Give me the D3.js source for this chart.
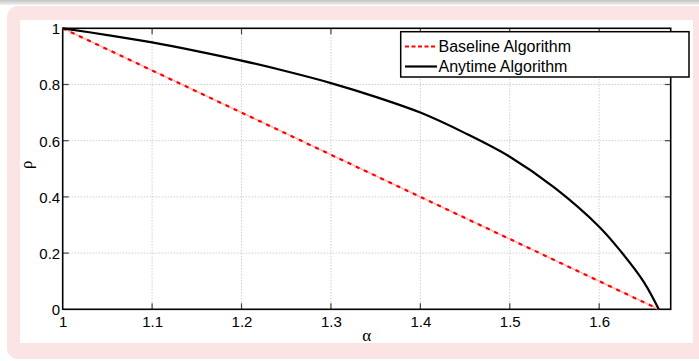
<!DOCTYPE html>
<html>
<head>
<meta charset="utf-8">
<script src="https://cdn.jsdelivr.net/npm/d3@7"></script>
<style>
  html, body { margin: 0; padding: 0; background: #fff; }
  svg { display: block; }
</style>
</head>
<body>
<svg id="chart" width="699" height="361"></svg>
<script>
// ---- data ----
const xTicks = [1, 1.1, 1.2, 1.3, 1.4, 1.5, 1.6];
const yTicks = [0, 0.2, 0.4, 0.6, 0.8, 1];
const baselineAlpha = [1, 1.6667];
const baselineRho = [1, 0];
const anytimeAlpha = [1, 1.05, 1.1, 1.15, 1.2, 1.25, 1.3, 1.35, 1.4, 1.45, 1.5, 1.55, 1.6, 1.625, 1.65, 1.6667];
const anytimeRho   = [1, 0.976, 0.950, 0.919, 0.885, 0.847, 0.805, 0.756, 0.700, 0.627, 0.543, 0.433, 0.294, 0.203, 0.097, 0];
const seriesNames = ["Baseline Algorithm", "Anytime Algorithm"];

const svg = d3.select("#chart");
const W = 699, H = 361;

// ---- frame background ----
const defs = svg.append("defs");
const g1 = defs.append("linearGradient").attr("id", "topGrad").attr("x1", 0).attr("y1", 0).attr("x2", 0).attr("y2", 1);
g1.append("stop").attr("offset", "0%").attr("stop-color", "#c4c4c4");
g1.append("stop").attr("offset", "100%").attr("stop-color", "#f2f2f2");
svg.append("rect").attr("x", 0).attr("y", 0).attr("width", W).attr("height", 5).attr("fill", "url(#topGrad)");
svg.append("rect").attr("x", 7).attr("y", 6).attr("width", W + 20).attr("height", 353)
  .attr("rx", 11).attr("ry", 11).attr("fill", "#fde4e4");
svg.append("rect").attr("x", 20).attr("y", 20).attr("width", 673).attr("height", 323).attr("fill", "#fff");

// ---- scales ----
const L = 62.7, R = 670.7, T = 28.3, B = 309.3;
const x = d3.scaleLinear().domain([1, 1.68]).range([L, R]);
const y = d3.scaleLinear().domain([0, 1]).range([B, T]);

// ---- grid ----
const grid = svg.append("g");
grid.selectAll(".gx").data(xTicks.slice(1)).enter().append("line")
  .attr("x1", d => x(d)).attr("x2", d => x(d)).attr("y1", T).attr("y2", B)
  .attr("stroke", "#b8b8b8").attr("stroke-width", 1).attr("stroke-dasharray", "1,2");
grid.selectAll(".gy").data(yTicks.slice(1, -1)).enter().append("line")
  .attr("x1", L).attr("x2", R).attr("y1", d => y(d)).attr("y2", d => y(d))
  .attr("stroke", "#b8b8b8").attr("stroke-width", 1).attr("stroke-dasharray", "1,2");

// ---- axes ----
const font = "'Liberation Sans', Arial, Helvetica, sans-serif";
const xAxis = d3.axisBottom(x).tickValues(xTicks).tickSize(0).tickPadding(0).tickFormat(d3.format("~g"));
const xa = svg.append("g").attr("transform", `translate(0,${B})`).call(xAxis);
xa.select(".domain").remove();
xa.selectAll("text").attr("font-family", font).attr("font-size", 15).attr("fill", "#000")
  .attr("dy", null).attr("y", 18);

const yAxis = d3.axisLeft(y).tickValues(yTicks).tickSize(0).tickPadding(0).tickFormat(d3.format("~g"));
const ya = svg.append("g").attr("transform", `translate(${L - 2.5},0)`).call(yAxis);
ya.select(".domain").remove();
ya.selectAll("text").attr("font-family", font).attr("font-size", 15).attr("fill", "#000")
  .attr("x", 0).attr("dy", "0.36em");

// inward tick marks
const tk = svg.append("g").attr("stroke", "#444").attr("stroke-width", 1.2);
tk.selectAll(".tb").data(xTicks.slice(1)).enter().append("line")
  .attr("x1", d => x(d)).attr("x2", d => x(d)).attr("y1", B).attr("y2", B - 6);
tk.selectAll(".tt").data(xTicks.slice(1)).enter().append("line")
  .attr("x1", d => x(d)).attr("x2", d => x(d)).attr("y1", T).attr("y2", T + 6);
tk.selectAll(".tl").data(yTicks.slice(1, -1)).enter().append("line")
  .attr("x1", L).attr("x2", L + 6).attr("y1", d => y(d)).attr("y2", d => y(d));
tk.selectAll(".tr").data(yTicks.slice(1, -1)).enter().append("line")
  .attr("x1", R).attr("x2", R - 6).attr("y1", d => y(d)).attr("y2", d => y(d));

// frame
svg.append("rect").attr("x", L).attr("y", T).attr("width", R - L).attr("height", B - T)
  .attr("fill", "none").attr("stroke", "#000").attr("stroke-width", 1.6);

// ---- lines ----
const line = d3.line().x(d => x(d[0])).y(d => y(d[1]));
const baseData = baselineAlpha.map((a, i) => [a, baselineRho[i]]);
const anyData = anytimeAlpha.map((a, i) => [a, anytimeRho[i]]);
const lineC = d3.line().x(d => x(d[0])).y(d => y(d[1])).curve(d3.curveCatmullRom.alpha(0.5));

svg.append("path").datum(baseData).attr("d", line).attr("fill", "none")
  .attr("stroke", "#ffb8b8").attr("stroke-width", 1.6);
svg.append("path").datum(baseData).attr("d", line).attr("fill", "none")
  .attr("stroke", "#ff0000").attr("stroke-width", 2.2).attr("stroke-dasharray", "4,5");
svg.append("path").datum(anyData).attr("d", lineC).attr("fill", "none")
  .attr("stroke", "#000").attr("stroke-width", 2.2).attr("stroke-linejoin", "round");

// ---- axis labels ----
svg.append("text").attr("x", (L + R) / 2).attr("y", 341).attr("text-anchor", "middle")
  .attr("font-family", "'Liberation Serif', 'Times New Roman', serif").attr("font-size", 17).text("α");
svg.append("text").attr("transform", `translate(32,${(T + B) / 2 - 4}) rotate(-90)`).attr("text-anchor", "middle")
  .attr("font-family", "'Liberation Serif', 'Times New Roman', serif").attr("font-size", 17).text("ρ");

// ---- legend ----
const lg = svg.append("g");
lg.append("rect").attr("x", 400.7).attr("y", 31.7).attr("width", 288.3).attr("height", 45.3)
  .attr("fill", "#fff").attr("stroke", "#000").attr("stroke-width", 1.5);
const rows = [
  {name: seriesNames[0], color: "#ff0000", dash: "4,2.5", y: 46.5},
  {name: seriesNames[1], color: "#000", dash: null, y: 66.5}
];
rows.forEach(r => {
  lg.append("line").attr("x1", 405).attr("x2", 437).attr("y1", r.y).attr("y2", r.y)
    .attr("stroke", r.color).attr("stroke-width", 2.2).attr("stroke-dasharray", r.dash);
  lg.append("text").attr("x", 438.5).attr("y", r.y).attr("dy", "0.36em")
    .attr("font-family", font).attr("font-size", 16).text(r.name);
});
</script>
</body>
</html>
